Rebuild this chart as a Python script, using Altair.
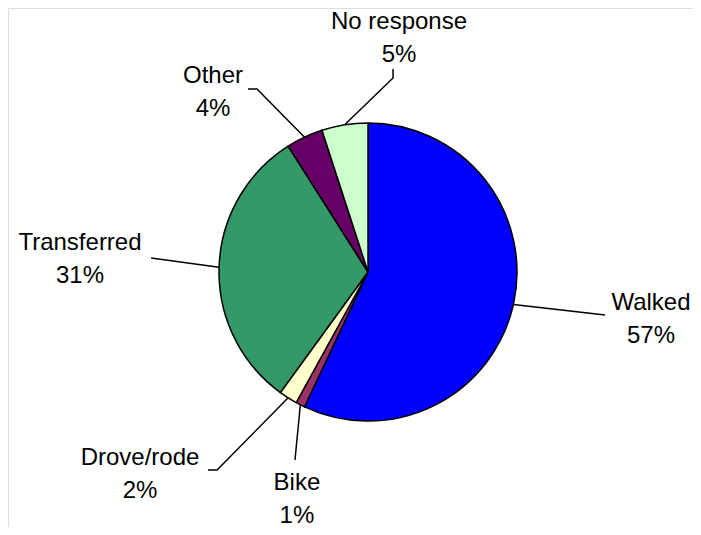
import numpy as np
import pandas as pd
import altair as alt

# ---- data ----
categories = ["Walked", "Bike", "Drove/rode", "Transferred", "Other", "No response"]
shares = [57, 1, 2, 31, 4, 5]
colors = ["#0000FF", "#993366", "#FFFFCC", "#339966", "#660066", "#CCFFCC"]

# ---- layout (in pie-radius units, pie centre = origin, y up) ----
# label block centres
label_pos = [(1.899, -0.322), (-0.477, -1.530), (-1.530, -1.356),
             (-1.933, 0.081), (-1.040, 1.208), (0.208, 1.567)]
# leader line points after the start point on the pie edge
leader_pts = [[(1.591, -0.289)],
              [(-0.490, -1.262)],
              [(-1.013, -1.329), (-1.074, -1.329)],
              [(-1.456, 0.094)],
              [(-0.745, 1.228), (-0.805, 1.228)],
              [(0.168, 1.302), (0.168, 1.362)]]

W, H = 685, 519
CX, CY = 360, 264   # pie centre in plot pixels
R = 149             # pie radius in pixels
LH = 33             # label line height

xdom = [-CX / R, (W - CX) / R]
ydom = [-(H - CY) / R, CY / R]
xs = alt.Scale(domain=xdom, range=[0, W], nice=False, zero=False)
ys = alt.Scale(domain=ydom, range=[H, 0], nice=False, zero=False)

total = float(sum(shares))
cum = np.cumsum(shares)
mid = (cum - np.array(shares) / 2.0) / total * 2 * np.pi

pie_df = pd.DataFrame({"cat": categories, "share": shares,
                       "idx": list(range(len(categories))),
                       "cx": 0.0, "cy": 0.0})

rows = []
for i, c in enumerate(categories):
    pts = [(float(np.sin(mid[i])), float(np.cos(mid[i])))] + leader_pts[i]
    for j, (x, y) in enumerate(pts):
        rows.append({"cat": c, "seq": j, "x": x, "y": y})
lead_df = pd.DataFrame(rows)

lab_df = pd.DataFrame({
    "cat": categories,
    "x": [p[0] for p in label_pos],
    "y": [p[1] for p in label_pos],
    "txt": [f"{c}\n{s}%" for c, s in zip(categories, shares)],
})

pie = alt.Chart(pie_df).mark_arc(radius=R, stroke="black", strokeWidth=1.5).encode(
    theta=alt.Theta("share:Q", stack=True),
    order=alt.Order("idx:Q", sort="ascending"),
    color=alt.Color("cat:N", scale=alt.Scale(domain=categories, range=colors), legend=None),
    x=alt.X("cx:Q", scale=xs, axis=None),
    y=alt.Y("cy:Q", scale=ys, axis=None),
)

leaders = alt.Chart(lead_df).mark_line(color="black", strokeWidth=1.5).encode(
    x=alt.X("x:Q", scale=xs, axis=None),
    y=alt.Y("y:Q", scale=ys, axis=None),
    detail="cat:N",
    order="seq:Q",
)

labels = alt.Chart(lab_df).mark_text(
    font="Liberation Sans", fontSize=24, lineBreak="\n", lineHeight=LH,
    align="center", baseline="middle", color="black", dy=-LH / 2,
).encode(
    x=alt.X("x:Q", scale=xs, axis=None),
    y=alt.Y("y:Q", scale=ys, axis=None),
    text="txt:N",
)

chart = alt.layer(pie, leaders, labels).properties(
    width=W, height=H, autosize=alt.AutoSizeParams(type="none"), padding=0
).configure_view(stroke=None).configure(background="white")

chart.save("out.html", embed_options={"renderer": "svg", "actions": False})
